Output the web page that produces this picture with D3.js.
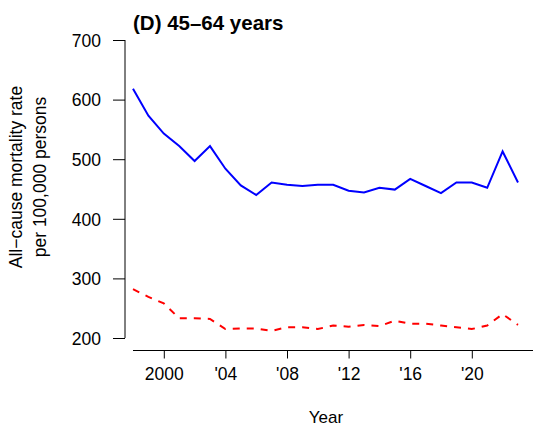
<!DOCTYPE html>
<html>
<head>
<meta charset="utf-8">
<script src="https://cdn.jsdelivr.net/npm/d3@7"></script>
<style>
  body { margin: 0; background: #fff; }
  text { font-family: "Liberation Sans", Arial, sans-serif; fill: #000; }
</style>
</head>
<body>
<svg id="chart" width="535" height="427"></svg>
<script>
// yearly values
var years = d3.range(1998, 2024);
var blueRates = [618, 573, 543, 522, 497, 522, 484, 456, 440, 461, 457, 455, 457,
                 457, 447, 444, 452, 449, 467, 455, 443, 461, 461, 452, 513, 461];
var redRates = [282, 269, 258, 233, 233, 232, 215, 216, 216, 212, 218, 218, 215,
                221, 219, 222, 220, 229, 224, 224, 221, 218, 215, 221, 240, 222];
var yTicks = [200, 300, 400, 500, 600, 700];
var xTicks = [2000, 2004, 2008, 2012, 2016, 2020];
var xTickLabels = ['2000', "'04", "'08", "'12", "'16", "'20"];

var svg = d3.select('#chart');

var x = d3.scaleLinear().domain([1998, 2023]).range([133, 518]);
var y = d3.scaleLinear().domain([200, 700]).range([338, 40]);

// y axis, R style: line only spans the tick range
var yAxis = d3.axisLeft(y)
  .tickValues(yTicks)
  .tickSize(12)
  .tickPadding(12)
  .tickSizeOuter(0);
var gy = svg.append('g')
  .attr('transform', 'translate(125,0)')
  .call(yAxis);
gy.select('.domain').remove();
gy.append('line')
  .attr('x1', 0).attr('x2', 0)
  .attr('y1', y(700)).attr('y2', y(200))
  .attr('stroke', '#000');
gy.selectAll('text').style('font-size', '17.5px').attr('dy', '0.36em');

// x axis runs past the data to the right edge
var xAxis = d3.axisBottom(x)
  .tickValues(xTicks)
  .tickFormat(function(d, i) { return xTickLabels[i]; })
  .tickSize(8)
  .tickPadding(9.5)
  .tickSizeOuter(0);
var gx = svg.append('g')
  .attr('transform', 'translate(0,350.5)')
  .call(xAxis);
gx.select('.domain').remove();
gx.append('line')
  .attr('x1', 133).attr('x2', 533)
  .attr('y1', 0).attr('y2', 0)
  .attr('stroke', '#000');
gx.selectAll('text').style('font-size', '17.5px');

var line = d3.line()
  .x(function(d, i) { return x(years[i]); })
  .y(function(d) { return y(d); });

svg.append('path')
  .datum(blueRates)
  .attr('d', line)
  .attr('fill', 'none')
  .attr('stroke', '#0000ff')
  .attr('stroke-width', 2);

svg.append('path')
  .datum(redRates)
  .attr('d', line)
  .attr('fill', 'none')
  .attr('stroke', '#ff0000')
  .attr('stroke-width', 2)
  .attr('stroke-dasharray', '7,7');

// titles
svg.append('text')
  .attr('x', 133).attr('y', 30)
  .style('font-size', '20.5px')
  .style('font-weight', 'bold')
  .text('(D) 45\u201364 years');

svg.append('text')
  .attr('x', 326).attr('y', 422.5)
  .attr('text-anchor', 'middle')
  .style('font-size', '17px')
  .text('Year');

var yTitle = svg.append('text')
  .attr('transform', 'translate(0,177) rotate(-90)')
  .attr('text-anchor', 'middle')
  .style('font-size', '17.5px');
yTitle.append('tspan').attr('x', 0).attr('y', 21.5).text('All\u2212cause mortality rate');
yTitle.append('tspan').attr('x', 0).attr('y', 46).text('per 100,000 persons');
</script>
</body>
</html>
